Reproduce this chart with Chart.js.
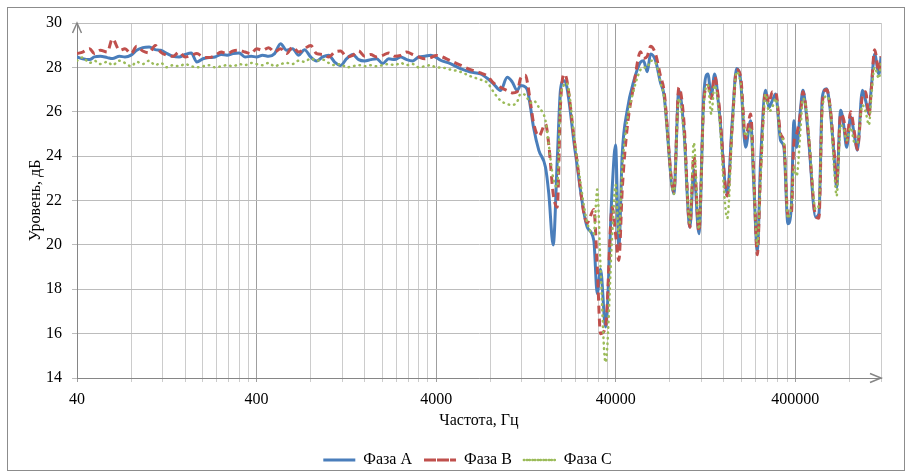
<!DOCTYPE html>
<html>
<head>
<meta charset="utf-8">
<script src="https://cdn.jsdelivr.net/npm/chart.js@4.4.1/dist/chart.umd.min.js"></script>
<style>
  html, body { margin: 0; padding: 0; background: #fff; }
  #wrap { position: relative; width: 910px; height: 473px; }
</style>
</head>
<body>
<div id="wrap"><canvas id="plot" width="910" height="473"></canvas></div>
<script>
// frequencies, Hz (flat part, shared by all phases)
const freqLow = [40, 43, 47, 50, 54, 59, 63, 69, 74, 80, 86, 93, 101, 109, 117, 127, 137, 148, 160, 173,
  186, 201, 217, 235, 254, 274, 296, 320, 345, 373, 400, 432, 467, 504, 544, 588, 635, 686, 740, 800,
  864, 933, 1008, 1088, 1175, 1269, 1371, 1481, 1599, 1727, 1865, 2015, 2176, 2350, 2538, 2741, 2960,
  3197, 3453, 3729, 4000];

const levelLowA = [28.47, 28.39, 28.35, 28.47, 28.5, 28.44, 28.4, 28.5, 28.47, 28.55, 28.77, 28.89, 28.92,
  28.8, 28.77, 28.62, 28.5, 28.47, 28.58, 28.65, 28.24, 28.39, 28.44, 28.47, 28.58, 28.55, 28.62, 28.65,
  28.47, 28.5, 28.47, 28.55, 28.5, 28.62, 29.07, 28.77, 28.84, 28.55, 28.8, 28.47, 28.29, 28.47, 28.55,
  28.24, 28.09, 28.39, 28.58, 28.35, 28.29, 28.35, 28.39, 28.17, 28.39, 28.35, 28.47, 28.35, 28.29,
  28.47, 28.5, 28.55, 28.45];
const levelLowB = [28.62, 28.69, 28.84, 28.62, 28.77, 28.69, 29.29, 28.77, 28.84, 28.62, 28.95, 28.74, 28.65,
  28.99, 28.69, 28.54, 28.5, 28.69, 28.47, 28.54, 28.62, 28.47, 28.44, 28.54, 28.69, 28.62, 28.74, 28.77,
  28.69, 28.62, 28.84, 28.77, 28.89, 28.69, 28.84, 28.62, 28.92, 28.69, 28.84, 28.99, 28.62, 28.58, 28.47,
  28.69, 28.74, 28.47, 28.54, 28.74, 28.5, 28.58, 28.47, 28.54, 28.65, 28.5, 28.54, 28.69, 28.58, 28.47,
  28.39, 28.44, 28.54];
const levelLowC = [28.3, 28.45, 28.2, 28.3, 28.15, 28.25, 28.1, 28.3, 28.2, 28.05, 28.25, 28.15, 28.3, 28.1,
  28.2, 28.0, 28.1, 28.05, 28.15, 28.05, 28.0, 28.05, 28.1, 28.0, 28.05, 28.1, 28.05, 28.15, 28.1, 28.2,
  28.15, 28.1, 28.2, 28.05, 28.15, 28.2, 28.15, 28.3, 28.25, 28.4, 28.3, 28.35, 28.2, 28.1, 28.15, 28.0,
  28.05, 28.1, 28.05, 28.1, 28.05, 28.1, 28.15, 28.1, 28.2, 28.1, 28.15, 28.0, 28.05, 28.1, 28.0];

// frequencies, Hz (resonance part)
const freqHigh = [4230, 4800, 5460, 6210, 7060, 7730, 8340, 9130, 9950, 10600, 11300, 11800, 12580, 12900,
  13410, 13940, 14920, 16250, 16960, 17940, 18890, 19700, 20560, 21280, 23880, 27750, 30200, 31550, 32920,
  35100, 38250, 39900, 41620, 43480, 46360, 50460, 54980, 57140, 59920, 62510, 66650, 71060, 74140, 84290,
  89870, 95820, 103500, 108900, 116200, 123800, 130400, 136200, 142100, 150100, 167200, 178300, 188400,
  198300, 211400, 225400, 235200, 245700, 256300, 273300, 285100, 297800, 310700, 331300, 345600, 363800,
  380000, 392900, 406700, 428200, 441000, 456500, 476200, 519000, 541400, 565600, 597600, 623500, 656300,
  679500, 715200, 746100, 772500, 813100, 856000, 886100, 944800, 985600, 1028000, 1060000, 1106000,
  1169000, 1200000];

const levelHighA = [28.32, 28.17, 27.94, 27.79, 27.71, 27.5, 27.26, 26.96, 27.55, 27.35, 26.96, 27.18, 27.11,
  26.96, 26.2, 25.3, 24.26, 23.5, 22.3, 20.0, 23.8, 27.0, 27.4, 27.2, 24.1, 20.8, 20.2, 17.8, 18.9, 16.3,
  22.6, 24.5, 19.9, 24.1, 26.07, 27.4, 28.24, 28.3, 27.8, 28.6, 28.3, 27.3, 26.8, 22.3, 26.97, 25.2, 20.8,
  23.4, 20.5, 26.8, 27.7, 26.7, 27.7, 26.2, 22.3, 25.6, 27.95, 27.4, 24.4, 25.6, 22.6, 19.75, 23.8, 26.97,
  26.2, 26.5, 26.8, 24.7, 24.4, 20.95, 21.7, 25.6, 24.4, 26.2, 26.97, 26.2, 24.6, 21.25, 21.4, 26.67, 27.04,
  26.2, 24.1, 22.6, 26.07, 25.3, 24.4, 25.76, 24.86, 24.26, 26.97, 26.5, 25.9, 27.1, 28.6, 27.7, 28.47];
const levelHighB = [28.5, 28.3, 28.1, 27.9, 27.75, 27.6, 27.3, 27.1, 26.95, 26.85, 26.9, 27.5, 27.64, 27.3,
  26.4, 25.5, 24.9, 25.45, 24.5, 22.3, 21.7, 26.3, 27.7, 27.5, 24.3, 21.0, 21.6, 19.0, 16.0, 16.3, 21.7,
  20.5, 19.3, 22.5, 25.3, 27.2, 28.7, 28.4, 28.5, 28.95, 28.6, 27.6, 27.0, 22.4, 27.1, 25.6, 20.8, 24.0,
  20.6, 26.5, 27.2, 26.6, 27.6, 26.4, 22.2, 25.4, 27.9, 27.6, 24.8, 25.9, 23.0, 19.55, 23.3, 26.9, 26.4,
  26.9, 26.9, 25.0, 24.6, 21.3, 21.4, 24.6, 25.0, 26.0, 26.9, 26.3, 24.7, 21.3, 21.2, 26.4, 27.0, 26.3,
  24.3, 22.8, 25.9, 25.6, 24.6, 26.0, 25.0, 24.3, 26.7, 26.9, 25.8, 27.0, 28.8, 27.8, 28.5];
const levelHighC = [28.0, 27.9, 27.8, 27.6, 27.45, 27.3, 26.9, 26.5, 26.35, 26.3, 26.45, 26.8, 26.75, 26.6,
  26.4, 26.5, 26.2, 25.6, 24.5, 23.0, 22.6, 26.5, 27.2, 27.3, 24.4, 21.0, 20.5, 22.5, 19.0, 14.7, 20.5,
  22.7, 20.5, 23.5, 25.6, 27.0, 27.9, 28.0, 28.0, 28.3, 28.2, 27.3, 26.7, 22.3, 26.6, 25.0, 21.0, 24.6,
  20.7, 26.3, 27.2, 25.9, 27.2, 26.0, 21.2, 25.3, 27.8, 27.3, 24.9, 25.3, 22.7, 20.0, 23.0, 26.8, 26.0,
  26.2, 26.6, 24.9, 24.6, 21.2, 21.8, 23.5, 23.1, 25.3, 26.6, 26.3, 24.9, 21.6, 21.8, 26.2, 26.7, 26.3,
  23.6, 22.2, 25.4, 25.2, 24.7, 25.3, 24.6, 24.6, 26.3, 26.0, 25.4, 26.7, 28.0, 27.5, 28.2];

const seriesNames = ['Фаза А', 'Фаза В', 'Фаза С'];
const labelledTicks = [40, 400, 4000, 40000, 400000];
const xMin = 40, xMax = 1200000;
const yMin = 14, yMax = 30, yStep = 2;

const freqs = freqLow.concat(freqHigh);
function toPoints(low, high) {
  const lv = low.concat(high);
  return freqs.map((f, i) => ({ x: f, y: lv[i] }));
}

// Excel-like log grid: 40, 80, 120 ... 360, 400, 800 ...
const gridFreqs = [];
labelledTicks.forEach(d => {
  for (let k = 1; k <= 9; k++) {
    if (d * k <= xMax) gridFreqs.push(d * k);
  }
});

Chart.defaults.font.family = "'Liberation Serif', 'Times New Roman', serif";
Chart.defaults.color = '#000';

const plotBottom = 378;   // bottom edge of plot area
const legendTop = 440;

const frame = {
  id: 'frame',
  afterLayout(chart) {
    // center the legend under the plot and put it at the reference height
    const lg = chart.legend;
    const dx = 27, dy = legendTop - lg.top;
    lg.left += dx; lg.right += dx;
    lg.top += dy; lg.bottom += dy;
  },
  beforeDraw(chart) {
    const c = chart.ctx;
    c.save();
    c.fillStyle = '#fff';
    c.fillRect(0, 0, chart.width, chart.height);
    c.strokeStyle = '#8c8c8c';
    c.lineWidth = 1;
    c.strokeRect(7.5, 7.5, 897, 463);
    c.restore();
  },
  afterDatasetsDraw(chart) {
    const a = chart.chartArea;
    const c = chart.ctx;
    c.save();
    c.strokeStyle = '#868686';
    c.lineWidth = 1.5;
    c.beginPath();
    c.moveTo(a.left - 4.5, a.top + 10);
    c.lineTo(a.left, a.top);
    c.lineTo(a.left + 4.5, a.top + 10);
    c.moveTo(a.right - 11, a.bottom - 4.5);
    c.lineTo(a.right, a.bottom);
    c.lineTo(a.right - 11, a.bottom + 4.5);
    c.stroke();
    c.restore();
  }
};

const chartInstance = new Chart(document.getElementById('plot').getContext('2d'), {
  type: 'line',
  data: {
    datasets: [{
      label: seriesNames[0],
      data: toPoints(levelLowA, levelHighA),
      borderColor: '#4a7ebb',
      backgroundColor: '#4a7ebb',
      borderWidth: 3,
      order: 3
    }, {
      label: seriesNames[1],
      data: toPoints(levelLowB, levelHighB),
      borderColor: '#c0504d',
      backgroundColor: '#c0504d',
      borderWidth: 3,
      borderDash: [8, 5],
      order: 2
    }, {
      label: seriesNames[2],
      data: toPoints(levelLowC, levelHighC),
      borderColor: '#9bbb59',
      backgroundColor: '#9bbb59',
      borderWidth: 2.5,
      borderDash: [0.5, 5],
      borderCapStyle: 'round',
      order: 1
    }]
  },
  options: {
    responsive: false,
    animation: false,
    events: [],
    elements: {
      point: { radius: 0 },
      line: { cubicInterpolationMode: 'monotone' }
    },
    layout: { padding: { top: 23, right: 29, left: 0, bottom: 2 } },
    scales: {
      x: {
        type: 'logarithmic',
        min: xMin,
        max: xMax,
        afterBuildTicks: scale => { scale.ticks = gridFreqs.map(v => ({ value: v })); },
        afterFit: scale => {
          const lgH = scale.chart.legend ? scale.chart.legend.height : 0;
          scale.height = scale.chart.height - 2 - lgH - plotBottom;
        },
        ticks: {
          autoSkip: false,
          maxRotation: 0,
          padding: 8,
          font: { size: 16 },
          callback: value => labelledTicks.includes(value) ? String(value) : ''
        },
        grid: {
          color: ctx => (ctx.tick && labelledTicks.includes(ctx.tick.value)) ? '#9f9f9f' : '#cccccc',
          tickLength: 4
        },
        border: { color: '#868686', width: 1 },
        title: { display: true, text: 'Частота, Гц', font: { size: 16 }, padding: { top: 0, bottom: 3 } }
      },
      y: {
        min: yMin,
        max: yMax,
        afterFit: scale => { scale.width = 77; },
        ticks: { stepSize: yStep, padding: 10, font: { size: 16 } },
        grid: { color: '#bcbcbc', tickLength: 5 },
        border: { color: '#868686', width: 1 },
        title: { display: true, text: 'Уровень, дБ', font: { size: 16 }, padding: { top: 26, bottom: 0 } }
      }
    },
    plugins: {
      legend: {
        position: 'bottom',
        labels: {
          boxWidth: 32,
          boxHeight: 0,
          padding: 12,
          font: { size: 16 },
          sort: (a, b) => a.datasetIndex - b.datasetIndex
        }
      },
      tooltip: { enabled: false }
    }
  },
  plugins: [frame]
});
</script>
</body>
</html>
